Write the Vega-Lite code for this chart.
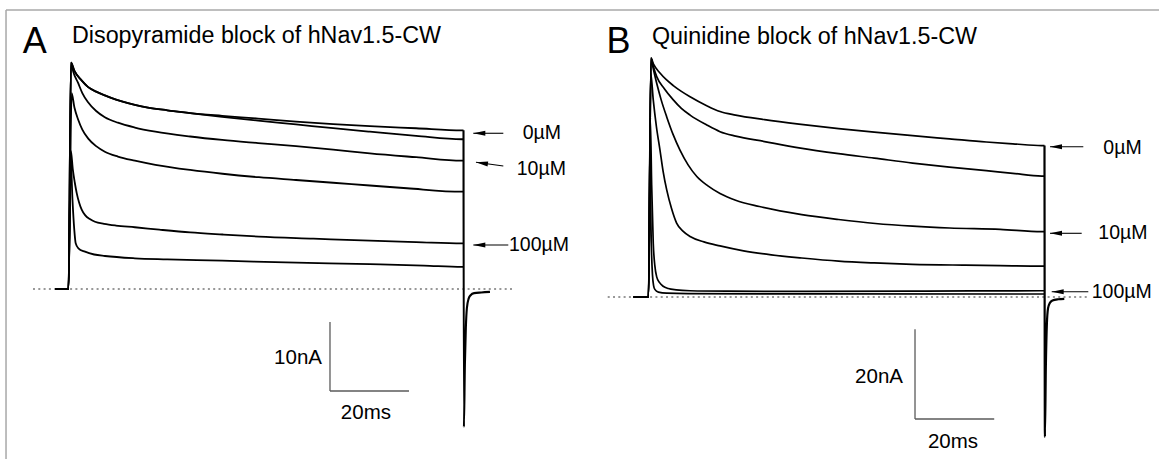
{
"$schema":"https://vega.github.io/schema/vega-lite/v6.json",
"width":1159,"height":459,"autosize":{"type":"none"},"padding":0,
"background":"white",
"config":{"view":{"stroke":null},"text":{"font":"Liberation Sans","color":"#000"}},
"datasets":{
"tracesA":[
{"s":"a1","t":-3.4,"i":0},{"s":"a1","t":0,"i":0},{"s":"a1","t":0.63,"i":32.8},{"s":"a1","t":1.5,"i":31.6},{"s":"a1","t":3.2,"i":30.3},{"s":"a1","t":4.9,"i":29.3},{"s":"a1","t":7,"i":28.6},{"s":"a1","t":9.2,"i":28.05},{"s":"a1","t":10.8,"i":27.7},{"s":"a1","t":13.5,"i":27.2},{"s":"a1","t":16.8,"i":26.7},{"s":"a1","t":20.1,"i":26.3},{"s":"a1","t":25,"i":25.9},{"s":"a1","t":30.8,"i":25.5},{"s":"a1","t":38.9,"i":25.1},{"s":"a1","t":48,"i":24.7},{"s":"a1","t":57.6,"i":24.25},{"s":"a1","t":67,"i":23.9},{"s":"a1","t":76.3,"i":23.6},{"s":"a1","t":88,"i":23.3},{"s":"a1","t":99.6,"i":23},{"s":"a1","t":100,"i":23},
{"s":"a2","t":-3.4,"i":0},{"s":"a2","t":0,"i":0},{"s":"a2","t":0.63,"i":32.8},{"s":"a2","t":1.5,"i":31.6},{"s":"a2","t":3.2,"i":30.3},{"s":"a2","t":4.9,"i":29.3},{"s":"a2","t":7,"i":28.6},{"s":"a2","t":9.2,"i":28.05},{"s":"a2","t":10.8,"i":27.7},{"s":"a2","t":13.5,"i":27.2},{"s":"a2","t":16.8,"i":26.7},{"s":"a2","t":20.1,"i":26.3},{"s":"a2","t":25,"i":25.9},{"s":"a2","t":30.8,"i":25.5},{"s":"a2","t":38.9,"i":24.95},{"s":"a2","t":48,"i":24.4},{"s":"a2","t":57.6,"i":23.85},{"s":"a2","t":67,"i":23.3},{"s":"a2","t":76.3,"i":22.8},{"s":"a2","t":88,"i":22.2},{"s":"a2","t":99.6,"i":21.7},{"s":"a2","t":100,"i":21.7},
{"s":"a3","t":-3.4,"i":0},{"s":"a3","t":0,"i":0},{"s":"a3","t":0.63,"i":32.8},{"s":"a3","t":1.2,"i":31.5},{"s":"a3","t":2.4,"i":29.9},{"s":"a3","t":3.5,"i":28.4},{"s":"a3","t":4.9,"i":27.1},{"s":"a3","t":7,"i":25.8},{"s":"a3","t":9.2,"i":24.9},{"s":"a3","t":12.5,"i":24.1},{"s":"a3","t":16.8,"i":23.4},{"s":"a3","t":22,"i":22.8},{"s":"a3","t":30.8,"i":22.1},{"s":"a3","t":38.9,"i":21.6},{"s":"a3","t":48,"i":21.15},{"s":"a3","t":57.6,"i":20.7},{"s":"a3","t":67,"i":20.2},{"s":"a3","t":76.3,"i":19.65},{"s":"a3","t":88,"i":19.1},{"s":"a3","t":99.6,"i":18.6},{"s":"a3","t":100,"i":18.6},
{"s":"a4","t":-3.4,"i":0},{"s":"a4","t":0,"i":0},{"s":"a4","t":0.8,"i":28.4},{"s":"a4","t":1.5,"i":26.3},{"s":"a4","t":2.48,"i":24.5},{"s":"a4","t":3.5,"i":23.1},{"s":"a4","t":5,"i":21.8},{"s":"a4","t":7,"i":20.7},{"s":"a4","t":9.2,"i":19.9},{"s":"a4","t":12.5,"i":19.2},{"s":"a4","t":16.8,"i":18.6},{"s":"a4","t":22,"i":18},{"s":"a4","t":30.8,"i":17.25},{"s":"a4","t":39,"i":16.7},{"s":"a4","t":48.2,"i":16.2},{"s":"a4","t":57.6,"i":15.8},{"s":"a4","t":67,"i":15.4},{"s":"a4","t":76.3,"i":15},{"s":"a4","t":85.7,"i":14.6},{"s":"a4","t":99.6,"i":14.1},{"s":"a4","t":100,"i":14.1},
{"s":"a5","t":-3.4,"i":0},{"s":"a5","t":0,"i":0},{"s":"a5","t":0.6,"i":20},{"s":"a5","t":1.1,"i":17.3},{"s":"a5","t":1.6,"i":15.4},{"s":"a5","t":2.08,"i":13.9},{"s":"a5","t":2.7,"i":12.5},{"s":"a5","t":3.34,"i":11.5},{"s":"a5","t":4.2,"i":10.7},{"s":"a5","t":5.5,"i":10.1},{"s":"a5","t":6.7,"i":9.75},{"s":"a5","t":9,"i":9.45},{"s":"a5","t":12,"i":9.2},{"s":"a5","t":16.8,"i":8.95},{"s":"a5","t":23,"i":8.6},{"s":"a5","t":30.8,"i":8.2},{"s":"a5","t":39,"i":7.9},{"s":"a5","t":48.2,"i":7.6},{"s":"a5","t":62,"i":7.3},{"s":"a5","t":76.3,"i":7},{"s":"a5","t":88,"i":6.8},{"s":"a5","t":99.6,"i":6.6},{"s":"a5","t":100,"i":6.6},
{"s":"a6","t":-3.4,"i":0},{"s":"a6","t":0,"i":0},{"s":"a6","t":0.55,"i":19},{"s":"a6","t":1,"i":13},{"s":"a6","t":1.47,"i":8.55},{"s":"a6","t":1.82,"i":6.62},{"s":"a6","t":2.5,"i":5.9},{"s":"a6","t":4.18,"i":5.41},{"s":"a6","t":6.5,"i":5},{"s":"a6","t":9.24,"i":4.78},{"s":"a6","t":16.8,"i":4.45},{"s":"a6","t":25,"i":4.3},{"s":"a6","t":38.9,"i":4.1},{"s":"a6","t":55,"i":3.85},{"s":"a6","t":76.3,"i":3.6},{"s":"a6","t":90,"i":3.4},{"s":"a6","t":99.6,"i":3.2},{"s":"a6","t":100,"i":3.2}
],
"tailA":[{"t":100,"i":23},{"t":100.1,"i":-20},{"t":100.35,"i":-11},{"t":100.6,"i":-5.5},{"t":100.85,"i":-2.8},{"t":101.3,"i":-1.4},{"t":101.8,"i":-0.9},{"t":102.7,"i":-0.6},{"t":104.5,"i":-0.5},{"t":106.7,"i":-0.42}],
"baseA":[{"t":-8.99,"i":0},{"t":112.28,"i":0}],
"frameA":[{"t":-15.82,"i":40.43,"t2":276.08,"i2":40.43},{"t":-15.82,"i":40.43,"t2":-15.82,"i2":-24.64}],
"barsA":[{"t":66.2,"i":-4.78,"t2":66.2,"i2":-14.78},{"t":66.2,"i":-14.78,"t2":86.2,"i2":-14.78}],
"arrowsA":[{"t":102.48,"i":22.57,"t2":110.08,"i2":22.57},{"t":102.48,"i":6.38,"t2":111.34,"i2":6.38}],
"arrowsAtilt":[{"t":103.16,"i":18.36,"t2":110.08,"i2":17.83}],
"textA":[
{"k":"letter","t":-11.59,"i":34.2,"label":"A"},
{"k":"title","t":0.886,"i":35.58,"label":"Disopyramide block of hNav1.5-CW"},
{"k":"conc","t":114.99,"i":22.54,"label":"0µM"},
{"k":"conc","t":113.47,"i":17.35,"label":"10µM"},
{"k":"conc","t":111.52,"i":6.38,"label":"100µM"},
{"k":"ybar","t":64.18,"i":-10.0,"label":"10nA"},
{"k":"xbar","t":75.3,"i":-17.97,"label":"20ms"}
],
"tracesB":[
{"s":"b1","t":-3.8,"i":0},{"s":"b1","t":0,"i":0},{"s":"b1","t":0.63,"i":53.3},{"s":"b1","t":1.3,"i":51.9},{"s":"b1","t":2.9,"i":50},{"s":"b1","t":4.5,"i":48.5},{"s":"b1","t":6.26,"i":47.2},{"s":"b1","t":8.3,"i":45.9},{"s":"b1","t":10.5,"i":44.7},{"s":"b1","t":14.7,"i":42.7},{"s":"b1","t":18.06,"i":41.4},{"s":"b1","t":22,"i":40.6},{"s":"b1","t":29.3,"i":39.6},{"s":"b1","t":38,"i":38.6},{"s":"b1","t":48,"i":37.6},{"s":"b1","t":57,"i":36.8},{"s":"b1","t":66.7,"i":36},{"s":"b1","t":76,"i":35.3},{"s":"b1","t":85.3,"i":34.6},{"s":"b1","t":92,"i":34.2},{"s":"b1","t":99.3,"i":33.8},{"s":"b1","t":100,"i":33.8},
{"s":"b2","t":-3.8,"i":0},{"s":"b2","t":0,"i":0},{"s":"b2","t":0.63,"i":53.3},{"s":"b2","t":1.2,"i":51.5},{"s":"b2","t":2.07,"i":49.2},{"s":"b2","t":4,"i":46.5},{"s":"b2","t":6.26,"i":44},{"s":"b2","t":8.3,"i":42.1},{"s":"b2","t":10.5,"i":40.6},{"s":"b2","t":14.7,"i":38.4},{"s":"b2","t":18.06,"i":36.9},{"s":"b2","t":22,"i":35.9},{"s":"b2","t":29.3,"i":34.7},{"s":"b2","t":38,"i":33.3},{"s":"b2","t":48,"i":32},{"s":"b2","t":57,"i":31},{"s":"b2","t":66.7,"i":29.9},{"s":"b2","t":76,"i":29},{"s":"b2","t":85.3,"i":28.2},{"s":"b2","t":92,"i":27.6},{"s":"b2","t":99.3,"i":27},{"s":"b2","t":100,"i":27},
{"s":"b3","t":-3.8,"i":0},{"s":"b3","t":0,"i":0},{"s":"b3","t":0.63,"i":53.3},{"s":"b3","t":1.2,"i":51},{"s":"b3","t":2.07,"i":47.7},{"s":"b3","t":3.2,"i":44},{"s":"b3","t":4.6,"i":40.2},{"s":"b3","t":6.2,"i":36.3},{"s":"b3","t":7.95,"i":32.8},{"s":"b3","t":10,"i":29.5},{"s":"b3","t":12.2,"i":26.9},{"s":"b3","t":15,"i":24.8},{"s":"b3","t":18.06,"i":23.1},{"s":"b3","t":22,"i":21.6},{"s":"b3","t":28,"i":20.2},{"s":"b3","t":38.7,"i":18.4},{"s":"b3","t":48,"i":17.3},{"s":"b3","t":57.3,"i":16.4},{"s":"b3","t":66.7,"i":15.8},{"s":"b3","t":76,"i":15.4},{"s":"b3","t":88.8,"i":15.1},{"s":"b3","t":99.3,"i":14.6},{"s":"b3","t":100,"i":14.6},
{"s":"b4","t":-3.8,"i":0},{"s":"b4","t":0,"i":0},{"s":"b4","t":0.55,"i":50},{"s":"b4","t":1.2,"i":44},{"s":"b4","t":2,"i":38},{"s":"b4","t":2.9,"i":32.8},{"s":"b4","t":3.7,"i":28},{"s":"b4","t":4.6,"i":23.9},{"s":"b4","t":5.8,"i":19.8},{"s":"b4","t":7.1,"i":16.5},{"s":"b4","t":8.7,"i":14.7},{"s":"b4","t":10.5,"i":13.5},{"s":"b4","t":14,"i":12.3},{"s":"b4","t":18.06,"i":11.4},{"s":"b4","t":24,"i":10.3},{"s":"b4","t":31,"i":9.4},{"s":"b4","t":38.7,"i":8.7},{"s":"b4","t":48,"i":8},{"s":"b4","t":57,"i":7.6},{"s":"b4","t":66.6,"i":7.3},{"s":"b4","t":80,"i":7.1},{"s":"b4","t":88.8,"i":7},{"s":"b4","t":99.3,"i":6.9},{"s":"b4","t":100,"i":6.9},
{"s":"b5","t":-3.8,"i":0},{"s":"b5","t":0,"i":0},{"s":"b5","t":0.45,"i":40},{"s":"b5","t":0.8,"i":25},{"s":"b5","t":1.2,"i":12},{"s":"b5","t":1.6,"i":7},{"s":"b5","t":2.07,"i":4.5},{"s":"b5","t":2.8,"i":3.2},{"s":"b5","t":3.7,"i":2.4},{"s":"b5","t":5,"i":1.9},{"s":"b5","t":7,"i":1.6},{"s":"b5","t":10.5,"i":1.4},{"s":"b5","t":20,"i":1.3},{"s":"b5","t":40,"i":1.25},{"s":"b5","t":70,"i":1.3},{"s":"b5","t":99.3,"i":1.4},{"s":"b5","t":100,"i":1.4},
{"s":"b6","t":-3.8,"i":0},{"s":"b6","t":0,"i":0},{"s":"b6","t":0.4,"i":28},{"s":"b6","t":0.7,"i":12},{"s":"b6","t":1,"i":5},{"s":"b6","t":1.3,"i":2.5},{"s":"b6","t":1.6,"i":1.7},{"s":"b6","t":2.5,"i":1.1},{"s":"b6","t":4.6,"i":0.85},{"s":"b6","t":10,"i":0.75},{"s":"b6","t":40,"i":0.7},{"s":"b6","t":99.3,"i":0.67},{"s":"b6","t":100,"i":0.67}
],
"tailB":[{"t":100,"i":33.8},{"t":100.1,"i":-31.2},{"t":100.35,"i":-15},{"t":100.6,"i":-6},{"t":100.9,"i":-2.5},{"t":101.3,"i":-1.4},{"t":102,"i":-0.8},{"t":103.5,"i":-0.5},{"t":105,"i":-0.4}],
"baseB":[{"t":-10.3,"i":0},{"t":110.98,"i":0}],
"barsB":[{"t":67.3,"i":-7.21,"t2":67.3,"i2":-27.23},{"t":67.3,"i":-27.23,"t2":87.3,"i2":-27.23}],
"arrowsB":[{"t":101.39,"i":33.55,"t2":109.8,"i2":33.55},{"t":101.39,"i":14.22,"t2":109.39,"i2":14.22},{"t":101.82,"i":1.18,"t2":111.06,"i2":1.18}],
"textB":[
{"k":"letter","t":-10.58,"i":54.46,"label":"B"},
{"k":"title","t":0.884,"i":56.58,"label":"Quinidine block of hNav1.5-CW"},
{"k":"conc","t":114.85,"i":33.15,"label":"0µM"},
{"k":"conc","t":113.59,"i":14.22,"label":"10µM"},
{"k":"conc","t":111.92,"i":1.18,"label":"100µM"},
{"k":"ybar","t":64.27,"i":-17.79,"label":"20nA"},
{"k":"xbar","t":76.89,"i":-32.3,"label":"20ms"}
]
},
"layer":[
{
"encoding":{
"x":{"field":"t","type":"quantitative","axis":null,"scale":{"domain":[-17.342,276.076],"nice":false,"zero":false}},
"y":{"field":"i","type":"quantitative","axis":null,"scale":{"domain":[-24.638,41.884],"nice":false,"zero":false}}
},
"layer":[
{"data":{"name":"frameA"},"mark":{"type":"rule","color":"#a8a8a8","strokeWidth":1.5},"encoding":{"x2":{"field":"t2"},"y2":{"field":"i2"}}},
{"data":{"name":"baseA"},"mark":{"type":"line","color":"#333","strokeWidth":1.2,"strokeDash":[2,3.3]},"encoding":{}},
{"data":{"name":"barsA"},"mark":{"type":"rule","color":"#5a5a5a","strokeWidth":1.3},"encoding":{"x2":{"field":"t2"},"y2":{"field":"i2"}}},
{"data":{"name":"tracesA"},"mark":{"type":"line","color":"#000","strokeWidth":1.8,"interpolate":"monotone"},"encoding":{"detail":{"field":"s"}}},
{"data":{"name":"tailA"},"mark":{"type":"line","color":"#000","strokeWidth":2.1,"interpolate":"monotone"},"encoding":{}},
{"data":{"name":"arrowsA"},"mark":{"type":"rule","color":"#000","strokeWidth":1.1},"encoding":{"x2":{"field":"t2"},"y2":{"field":"i2"}}},
{"data":{"name":"arrowsAtilt"},"mark":{"type":"rule","color":"#000","strokeWidth":1.1},"encoding":{"x2":{"field":"t2"},"y2":{"field":"i2"}}},
{"data":{"name":"arrowsA"},"mark":{"type":"point","shape":"M0,0L2,-0.42L2,0.42Z","size":144,"filled":true,"color":"#000","opacity":1,"strokeWidth":0}},
{"data":{"name":"arrowsAtilt"},"mark":{"type":"point","shape":"M0,0L2,-0.42L2,0.42Z","size":144,"filled":true,"color":"#000","opacity":1,"strokeWidth":0,"angle":7.7}},
{"data":{"name":"textA"},"transform":[{"filter":"datum.k==='letter'"}],"mark":{"type":"text","fontSize":36,"align":"left","baseline":"alphabetic"},"encoding":{"text":{"field":"label"}}},
{"data":{"name":"textA"},"transform":[{"filter":"datum.k==='title'"}],"mark":{"type":"text","fontSize":23.3,"align":"left","baseline":"alphabetic"},"encoding":{"text":{"field":"label"}}},
{"data":{"name":"textA"},"transform":[{"filter":"datum.k==='conc'"}],"mark":{"type":"text","fontSize":19.5,"align":"left","baseline":"middle"},"encoding":{"text":{"field":"label"}}},
{"data":{"name":"textA"},"transform":[{"filter":"datum.k==='ybar'"}],"mark":{"type":"text","fontSize":20.5,"align":"right","baseline":"middle"},"encoding":{"text":{"field":"label"}}},
{"data":{"name":"textA"},"transform":[{"filter":"datum.k==='xbar'"}],"mark":{"type":"text","fontSize":20.5,"align":"center","baseline":"middle"},"encoding":{"text":{"field":"label"}}}
]
},
{
"encoding":{
"x":{"field":"t","type":"quantitative","axis":null,"scale":{"domain":[-163.763,128.914],"nice":false,"zero":false}},
"y":{"field":"i","type":"quantitative","axis":null,"scale":{"domain":[-36.161,66.295],"nice":false,"zero":false}}
},
"layer":[
{"data":{"name":"baseB"},"mark":{"type":"line","color":"#333","strokeWidth":1.2,"strokeDash":[2,3.3]},"encoding":{}},
{"data":{"name":"barsB"},"mark":{"type":"rule","color":"#5a5a5a","strokeWidth":1.3},"encoding":{"x2":{"field":"t2"},"y2":{"field":"i2"}}},
{"data":{"name":"tracesB"},"mark":{"type":"line","color":"#000","strokeWidth":1.7,"interpolate":"monotone"},"encoding":{"detail":{"field":"s"}}},
{"data":{"name":"tailB"},"mark":{"type":"line","color":"#000","strokeWidth":2.2,"interpolate":"monotone"},"encoding":{}},
{"data":{"name":"arrowsB"},"mark":{"type":"rule","color":"#000","strokeWidth":1.1},"encoding":{"x2":{"field":"t2"},"y2":{"field":"i2"}}},
{"data":{"name":"arrowsB"},"mark":{"type":"point","shape":"M0,0L2,-0.42L2,0.42Z","size":144,"filled":true,"color":"#000","opacity":1,"strokeWidth":0}},
{"data":{"name":"textB"},"transform":[{"filter":"datum.k==='letter'"}],"mark":{"type":"text","fontSize":36,"align":"left","baseline":"alphabetic"},"encoding":{"text":{"field":"label"}}},
{"data":{"name":"textB"},"transform":[{"filter":"datum.k==='title'"}],"mark":{"type":"text","fontSize":23.3,"align":"left","baseline":"alphabetic"},"encoding":{"text":{"field":"label"}}},
{"data":{"name":"textB"},"transform":[{"filter":"datum.k==='conc'"}],"mark":{"type":"text","fontSize":19.5,"align":"left","baseline":"middle"},"encoding":{"text":{"field":"label"}}},
{"data":{"name":"textB"},"transform":[{"filter":"datum.k==='ybar'"}],"mark":{"type":"text","fontSize":20.5,"align":"right","baseline":"middle"},"encoding":{"text":{"field":"label"}}},
{"data":{"name":"textB"},"transform":[{"filter":"datum.k==='xbar'"}],"mark":{"type":"text","fontSize":20.5,"align":"center","baseline":"middle"},"encoding":{"text":{"field":"label"}}}
]
}
],
"resolve":{"scale":{"x":"independent","y":"independent"}}
}
